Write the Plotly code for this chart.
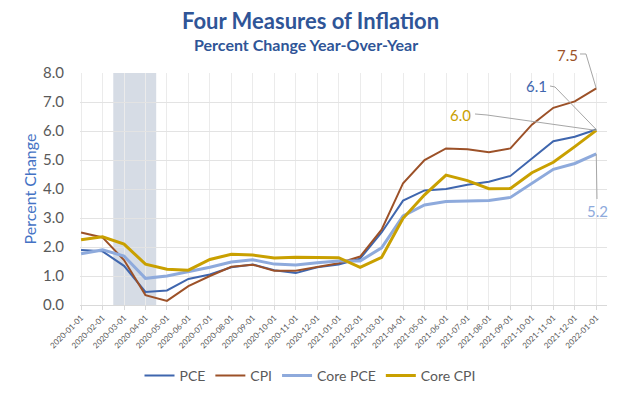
import plotly.graph_objects as go

dates = ["2020-01-01", "2020-02-01", "2020-03-01", "2020-04-01", "2020-05-01", "2020-06-01",
         "2020-07-01", "2020-08-01", "2020-09-01", "2020-10-01", "2020-11-01", "2020-12-01",
         "2021-01-01", "2021-02-01", "2021-03-01", "2021-04-01", "2021-05-01", "2021-06-01",
         "2021-07-01", "2021-08-01", "2021-09-01", "2021-10-01", "2021-11-01", "2021-12-01",
         "2022-01-01"]

pce = [1.9, 1.85, 1.35, 0.45, 0.5, 0.9, 1.05, 1.3, 1.4, 1.2, 1.1, 1.3, 1.4, 1.6, 2.5, 3.6,
       3.95, 4.0, 4.15, 4.25, 4.45, 5.05, 5.65, 5.8, 6.05]
cpi = [2.5, 2.33, 1.55, 0.34, 0.14, 0.65, 1.0, 1.32, 1.39, 1.18, 1.18, 1.32, 1.44, 1.67, 2.6,
       4.2, 5.0, 5.4, 5.37, 5.27, 5.4, 6.22, 6.8, 7.02, 7.47]
core_pce = [1.77, 1.9, 1.69, 0.92, 1.0, 1.15, 1.3, 1.48, 1.56, 1.41, 1.38, 1.46, 1.52, 1.52,
            1.97, 3.07, 3.45, 3.57, 3.58, 3.6, 3.71, 4.2, 4.68, 4.88, 5.21]
core_cpi = [2.25, 2.35, 2.1, 1.41, 1.23, 1.2, 1.57, 1.75, 1.72, 1.62, 1.65, 1.64, 1.63, 1.3,
            1.64, 2.99, 3.8, 4.48, 4.29, 4.01, 4.02, 4.56, 4.92, 5.46, 6.02]

series_names = ["PCE", "CPI", "Core PCE", "Core CPI"]
series_values = [pce, cpi, core_pce, core_cpi]
end_labels = ["6.1", "7.5", "5.2", "6.0"]

recession_start = 1.5   # category-position of shaded recession band
recession_end = 3.5

colors = ["#3F66AE", "#9C5128", "#8EAADC", "#C9A000"]
widths = [2, 2, 3, 3]

FONT = "Lato"
W, H = 620, 393
ML, MR, MT, MB = 80, 13, 73, 88
PW = W - ML - MR
PH = H - MT - MB
XR = [-0.05, 24.5]
YR = [0, 8]


def px_x(px):
    return (px - ML) / PW


def px_y(py):
    return (H - MB - py) / PH


def data_x(i):
    return (i - XR[0]) / (XR[1] - XR[0])


def data_y(v):
    return (v - YR[0]) / (YR[1] - YR[0])


fig = go.Figure()
for name, vals, c, w in zip(series_names, series_values, colors, widths):
    fig.add_trace(go.Scatter(x=dates, y=vals, mode="lines", name=name,
                             line=dict(color=c, width=w)))

fig.add_shape(type="rect", xref="x", yref="y", x0=recession_start, x1=recession_end,
              y0=0, y1=8, fillcolor="#D6DCE5", line=dict(width=0), layer="below")

last = len(dates) - 1
label_specs = {
    "CPI": dict(pos=(567, 55), path=[(580, 54), (586, 54)]),
    "PCE": dict(pos=(536, 86), path=[(550, 86), (555, 87)]),
    "Core CPI": dict(pos=(461, 115), path=[(475, 114), (487, 115)]),
    "Core PCE": dict(pos=(597, 211), path=[(597, 199)]),
}
for name, vals, c, lab in zip(series_names, series_values, colors, end_labels):
    spec = label_specs[name]
    fig.add_annotation(xref="paper", yref="paper", x=px_x(spec["pos"][0]), y=px_y(spec["pos"][1]),
                       text=lab, showarrow=False, xanchor="center", yanchor="middle",
                       font=dict(family=FONT, size=15, color=c))
    pts = [(px_x(a), px_y(b)) for a, b in spec["path"]] + [(data_x(last), data_y(vals[last]))]
    d = "M " + " L ".join(f"{a:.5f},{b:.5f}" for a, b in pts)
    fig.add_shape(type="path", xref="paper", yref="paper", path=d,
                  line=dict(color="#A6A6A6", width=1), layer="above")

fig.add_annotation(xref="paper", yref="paper", x=px_x(310), y=px_y(20),
                   text="<b>Four Measures of Inflation</b>", showarrow=False,
                   xanchor="center", yanchor="middle",
                   font=dict(family=FONT, size=22, color="#2F5597"))
fig.add_annotation(xref="paper", yref="paper", x=px_x(306), y=px_y(44),
                   text="<b>Percent Change Year-Over-Year</b>", showarrow=False,
                   xanchor="center", yanchor="middle",
                   font=dict(family=FONT, size=16, color="#2F5597"))

fig.update_layout(
    width=W, height=H, autosize=False,
    margin=dict(l=ML, r=MR, t=MT, b=MB, autoexpand=False),
    paper_bgcolor="white", plot_bgcolor="white",
    font=dict(family=FONT, color="#595959"),
    showlegend=True,
    legend=dict(orientation="h", x=px_x(310), xanchor="center", y=px_y(376), yanchor="middle",
                font=dict(family=FONT, size=14, color="#595959"), itemwidth=30,
                bgcolor="rgba(0,0,0,0)"),
    xaxis=dict(type="category", range=XR, tickangle=-45, automargin=False,
               tickfont=dict(family=FONT, size=8, color="#595959"),
               showgrid=True, gridcolor="#EBEBEB", gridwidth=1,
               ticks="outside", ticklen=4, tickcolor="#D9D9D9",
               showline=True, linecolor="#D9D9D9", linewidth=1, zeroline=False),
    yaxis=dict(range=YR, dtick=1, tickformat=".1f", automargin=False,
               tickfont=dict(family=FONT, size=15, color="#595959"),
               showgrid=True, gridcolor="#E3E3E3", gridwidth=1, zeroline=False,
               showline=False, ticks="", ticklabelstandoff=15,
               title=dict(text="Percent Change", standoff=2,
                          font=dict(family=FONT, size=16, color="#4472C4"))),
)

fig.write_html("out.html", config={"displayModeBar": False},
               post_script="document.body.style.margin='0';document.body.style.overflow='hidden';")
